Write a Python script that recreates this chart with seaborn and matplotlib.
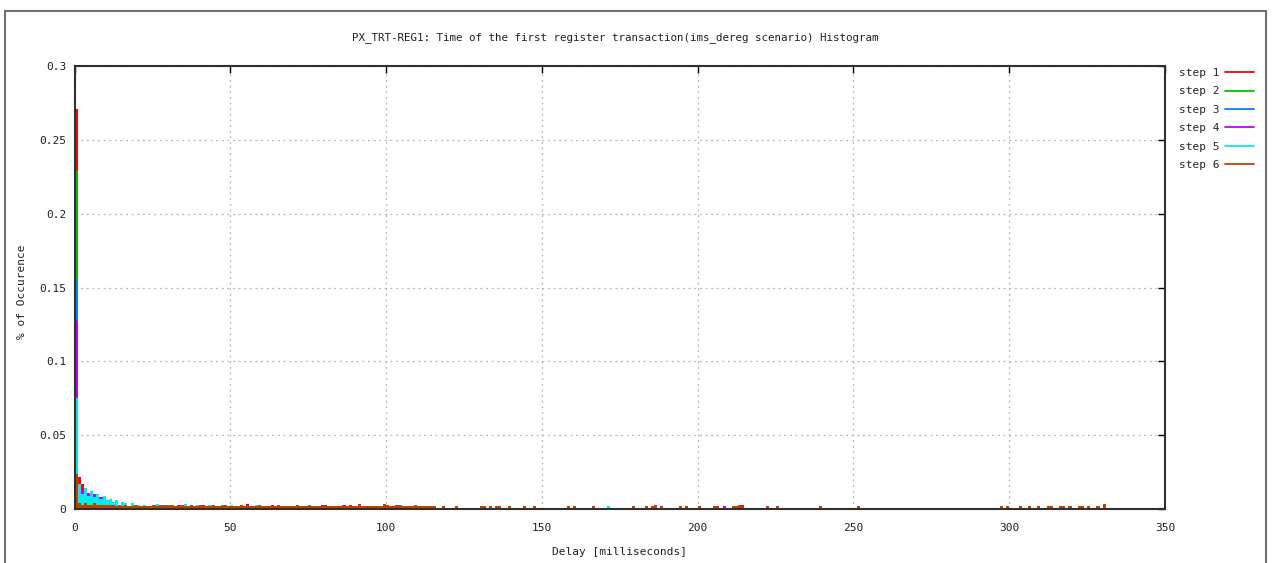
import numpy as np
import pandas as pd
import matplotlib
matplotlib.use("Agg")
import matplotlib.pyplot as plt
from matplotlib.lines import Line2D
from matplotlib.patches import Rectangle
import seaborn as sns

# ---------------------------------------------------------------- data
steps = ["step 1", "step 2", "step 3", "step 4", "step 5", "step 6"]
colors = ["#ff0000", "#00c000", "#0080ff", "#c000ff", "#00eeee", "#c04000"]

# % of occurrence per 1 ms bin, delays 0..24 ms
head_s1 = [0.271, 0.022, 0.017, 0.010, 0.008, 0.009, 0.006, 0.007, 0.005, 0.006,
           0.004, 0.004, 0.005, 0.003, 0.003, 0.002, 0.003, 0.002, 0.002, 0.002,
           0.002, 0.001, 0.002, 0.001, 0.001]
head_s2 = [0.229, 0.013, 0.011, 0.013, 0.010, 0.011, 0.008, 0.009, 0.006, 0.007,
           0.005, 0.006, 0.004, 0.004, 0.003, 0.003, 0.003, 0.002, 0.002, 0.002,
           0.001, 0.002, 0.001, 0.001, 0.001]
head_s3 = [0.155, 0.012, 0.012, 0.009, 0.011, 0.008, 0.008, 0.006, 0.007, 0.005,
           0.005, 0.004, 0.004, 0.003, 0.003, 0.002, 0.002, 0.002, 0.002, 0.001,
           0.002, 0.001, 0.001, 0.001, 0.001]
head_s4 = [0.127, 0.015, 0.013, 0.012, 0.011, 0.009, 0.010, 0.008, 0.008, 0.006,
           0.006, 0.005, 0.004, 0.004, 0.003, 0.003, 0.003, 0.002, 0.002, 0.002,
           0.001, 0.002, 0.001, 0.001, 0.001]
head_s5 = [0.075, 0.017, 0.010, 0.014, 0.009, 0.012, 0.008, 0.010, 0.007, 0.009,
           0.006, 0.007, 0.005, 0.006, 0.003, 0.005, 0.004, 0.002, 0.004, 0.002,
           0.003, 0.002, 0.003, 0.002, 0.001]
head_s6 = [0.024, 0.004, 0.003, 0.004, 0.003, 0.003, 0.004, 0.003, 0.003, 0.003,
           0.003, 0.003, 0.003, 0.002, 0.003, 0.002, 0.003, 0.002, 0.002, 0.003,
           0.002, 0.002, 0.002, 0.002, 0.002]

# step 6 keeps a steady low level from 25 ms to 115 ms
band_s6 = [0.0028, 0.0022, 0.0028, 0.002, 0.0025, 0.0022, 0.0028, 0.002, 0.0022, 0.0025,
           0.002, 0.0022, 0.0028, 0.0022, 0.002, 0.0025, 0.0022, 0.002, 0.0022, 0.0028,
           0.0022, 0.002, 0.0022, 0.0025, 0.002, 0.0022, 0.002, 0.0022, 0.0025, 0.002,
           0.0022, 0.002, 0.0022, 0.002, 0.0025, 0.0022, 0.002, 0.0022, 0.002, 0.0022,
           0.0025, 0.002, 0.0022, 0.002, 0.0022, 0.002, 0.0025, 0.002, 0.0022, 0.002,
           0.0022, 0.002, 0.0022, 0.002, 0.0022, 0.0025, 0.002, 0.0022, 0.002, 0.0022,
           0.002, 0.0022, 0.002, 0.0022, 0.002, 0.0022, 0.0032, 0.002, 0.0022, 0.002,
           0.0022, 0.002, 0.0022, 0.002, 0.0032, 0.0028, 0.0022, 0.002, 0.0025, 0.002,
           0.0022, 0.002, 0.0022, 0.002, 0.0028, 0.002, 0.0022, 0.0018, 0.0018, 0.002,
           0.0018]

# isolated occurrences further out (delay in ms, %)
tail_s1_ms = [27, 33, 41, 55, 63, 88, 107, 214]
tail_s1_pct = [0.003, 0.0025, 0.003, 0.0035, 0.0025, 0.0025, 0.002, 0.003]
tail_s2_ms = [26, 30, 38, 47, 60, 95]
tail_s2_pct = [0.003, 0.0025, 0.0022, 0.0025, 0.002, 0.0022]
tail_s3_ms = [28, 36, 45, 75, 104]
tail_s3_pct = [0.0025, 0.0022, 0.0022, 0.0025, 0.0025]
tail_s4_ms = [29, 34, 44, 52, 79, 86, 98, 208]
tail_s4_pct = [0.003, 0.0025, 0.0022, 0.0022, 0.0025, 0.0025, 0.0022, 0.002]
tail_s5_ms = [26, 31, 35, 39, 43, 50, 58, 66, 71, 82, 104, 111, 139, 171]
tail_s5_pct = [0.0035, 0.003, 0.0035, 0.0025, 0.003, 0.0025, 0.0025, 0.0022, 0.003,
               0.0022, 0.0022, 0.002, 0.0022, 0.002]
tail_s6_ms = [118, 122, 130, 131, 133, 135, 136, 139, 144, 147, 158, 160, 166, 179,
              183, 185, 186, 188, 194, 196, 200, 205, 206, 211, 212, 213, 214, 222,
              225, 239, 251, 297, 299, 303, 306, 309, 312, 313, 316, 317, 319, 322,
              323, 325, 328, 330]
tail_s6_pct = [0.002, 0.002, 0.002, 0.0022, 0.002, 0.002, 0.0022, 0.002, 0.002,
               0.002, 0.002, 0.0022, 0.002, 0.002, 0.002, 0.002, 0.0025, 0.002,
               0.002, 0.002, 0.002, 0.0022, 0.002, 0.002, 0.002, 0.003, 0.002,
               0.002, 0.002, 0.002, 0.002, 0.002, 0.002, 0.002, 0.002, 0.0022,
               0.002, 0.002, 0.0022, 0.002, 0.002, 0.002, 0.0022, 0.002, 0.002,
               0.0032]

x_ticks = [0, 50, 100, 150, 200, 250, 300, 350]
y_ticks = [0, 0.05, 0.1, 0.15, 0.2, 0.25, 0.3]
y_tick_labels = ["0", "0.05", "0.1", "0.15", "0.2", "0.25", "0.3"]

title = "PX_TRT-REG1: Time of the first register transaction(ims_dereg scenario) Histogram"
x_label = "Delay [milliseconds]"
y_label = "% of Occurence"

# ---------------------------------------------------------------- tidy table
heads = [head_s1, head_s2, head_s3, head_s4, head_s5, head_s6]
tails = [(tail_s1_ms, tail_s1_pct), (tail_s2_ms, tail_s2_pct), (tail_s3_ms, tail_s3_pct),
         (tail_s4_ms, tail_s4_pct), (tail_s5_ms, tail_s5_pct), (tail_s6_ms, tail_s6_pct)]
frames = []
for name, head, (t_ms, t_pct) in zip(steps, heads, tails):
    ms = list(range(len(head))) + list(t_ms)
    pct = list(head) + list(t_pct)
    if name == "step 6":
        ms += list(range(25, 25 + len(band_s6)))
        pct += list(band_s6)
    frames.append(pd.DataFrame({"step": name,
                                "delay": np.asarray(ms, dtype=float) + 0.5,
                                "pct": np.asarray(pct, dtype=float)}))
df = pd.concat(frames, ignore_index=True)

# ---------------------------------------------------------------- figure
sns.set_style("white")
plt.rcParams["font.family"] = ["DejaVu Sans Mono", "DejaVu Sans"]

W, H = 1275, 563
fig = plt.figure(figsize=(W / 100, H / 100), dpi=100)
ax = fig.add_axes([74.5 / W, 1 - 509 / H, (1165 - 74.5) / W, (509 - 66) / H])

for name, col in zip(steps, colors):
    sub = df[df["step"] == name].reset_index(drop=True)
    sns.histplot(data=sub, x="delay", weights="pct", binwidth=1, binrange=(0, 350),
                 element="bars", fill=True, color=col, alpha=1, linewidth=0, ax=ax)

ax.set_xlim(0, 350)
ax.set_ylim(0, 0.3)
ax.set_xticks(x_ticks)
ax.set_yticks(y_ticks)
ax.set_yticklabels(y_tick_labels)
ax.set_xlabel("")
ax.set_ylabel("")
ax.tick_params(axis="both", direction="in", length=5, width=1, color="black",
               labelsize=8, top=True, right=True, labelcolor="#202020")
ax.tick_params(axis="x", pad=10)
ax.tick_params(axis="y", pad=6)

ax.grid(True, color="#b4b4b4", linestyle=(0, (1.5, 3)), linewidth=0.9)
ax.set_axisbelow(True)
for s in ax.spines.values():
    s.set_visible(True)
    s.set_color("#303030")
    s.set_linewidth(1.5)

fig.text(615 / W, 1 - 38 / H, title, ha="center", va="center", fontsize=7.8, color="#202020")
fig.text(620 / W, 1 - 552 / H, x_label, ha="center", va="center", fontsize=8, color="#202020")
fig.text(22 / W, 1 - 292 / H, y_label, ha="center", va="center", rotation=90,
         fontsize=8, color="#202020")

handles = [Line2D([], [], color=c, linewidth=1.3) for c in colors]
ax.legend(handles, steps, loc="upper left", bbox_to_anchor=(1179 / W, 1 - 68 / H),
          bbox_transform=fig.transFigure, frameon=False, markerfirst=False,
          handlelength=2.6, handletextpad=0.5, labelspacing=0.76, borderpad=0,
          borderaxespad=0, prop={"family": "DejaVu Sans Mono", "size": 8})

# outer frame around the whole chart
fig.patches.append(Rectangle((5 / W, -0.05), (1266 - 5) / W, 1 - 11 / H + 0.05,
                             transform=fig.transFigure, fill=False,
                             edgecolor="#707070", linewidth=1.5))

fig.savefig("out.png", dpi=100, facecolor="white")
